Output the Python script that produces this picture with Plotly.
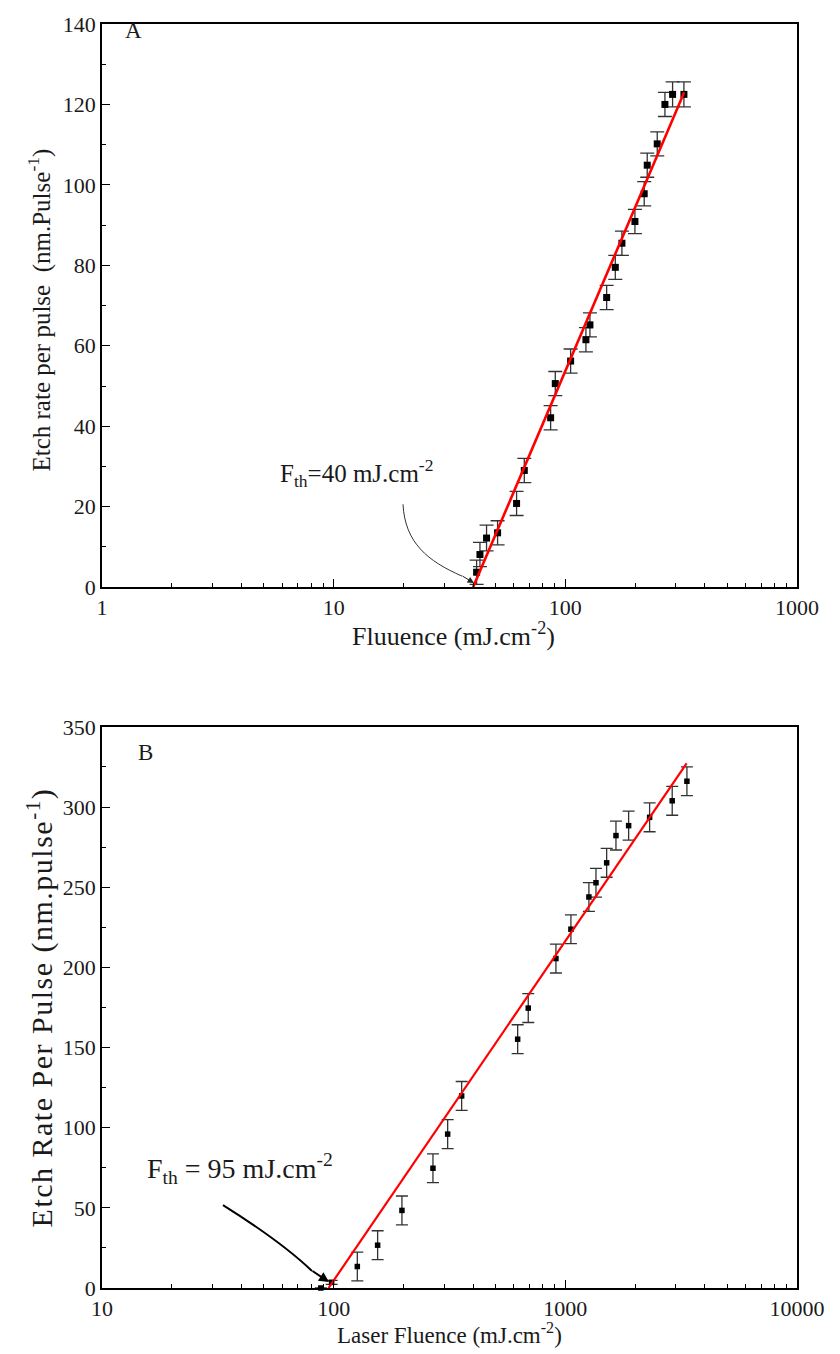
import numpy as np
import plotly.graph_objects as go

# ---- Panel A: etch rate vs fluence ----
fluence_a = [41.4, 42.8, 45.7, 51.0, 61.6, 66.5, 86.4, 90.5, 105.4, 122.7, 127.7,
             150.8, 164.3, 175.5, 199.7, 219.0, 225.7, 249.3, 269.1, 290.4, 325.0]
etch_a = [3.7, 8.1, 12.2, 13.5, 20.8, 29.0, 42.1, 50.6, 56.2, 61.5, 65.2,
          72.0, 79.5, 85.5, 90.9, 97.8, 104.9, 110.2, 120.0, 122.5, 122.5]
err_a = [3.0, 3.0, 3.2, 3.0, 3.0, 3.0, 3.0, 3.0, 3.0, 3.0, 3.0,
         3.0, 3.0, 3.0, 3.0, 3.0, 3.0, 3.0, 3.0, 3.1, 3.1]
fth_a = 40.0          # threshold fluence (mJ/cm^2)
slope_a = 135.0       # nm per decade of fluence
fit_span_a = [40.0, 326.0]

# ---- Panel B: etch rate vs laser fluence ----
fluence_b = [88, 98, 126.5, 154.8, 197.1, 268.3, 310.5, 356.8, 622.6, 691.7, 910.8,
             1057, 1264, 1356, 1508, 1654, 1876, 2311, 2893, 3348]
etch_b = [0.0, 3.5, 13.4, 26.7, 48.4, 74.7, 96.0, 119.8, 155.2, 174.6, 205.5,
          223.8, 243.9, 252.8, 265.2, 282.2, 288.4, 293.6, 303.9, 316.1]
err_b = [0.0, 1.2, 9, 9, 9, 9, 9, 9, 9, 9, 9, 9, 9, 9, 9, 9, 9, 9, 9, 9]
fth_b = 95.0
slope_b = 211.7
fit_span_b = [95.0, 3338.0]

ticks_a_x = [1, 10, 100, 1000]
ticks_b_x = [10, 100, 1000, 10000]
ticks_a_y = [0, 20, 40, 60, 80, 100, 120, 140]
ticks_b_y = [0, 50, 100, 150, 200, 250, 300, 350]

FONT = "Times New Roman, Liberation Serif, serif"
INK = "#1a1a1a"
W, H = 840, 1354
ML, MR, MT, MB = 102, 43, 22, 66


def fit_line(span, fth, slope):
    f = np.logspace(np.log10(span[0]), np.log10(span[1]), 60)
    return f, slope * np.log10(f / fth)


def paper(px, py):
    return (px - ML) / (W - ML - MR), (H - MB - py) / (H - MT - MB)


fig = go.Figure()

fa, ea = fit_line(fit_span_a, fth_a, slope_a)
fb, eb = fit_line(fit_span_b, fth_b, slope_b)

fig.add_trace(go.Scatter(x=fluence_a, y=etch_a, mode="markers",
                         marker=dict(symbol="square", size=7, color="black"),
                         error_y=dict(type="data", array=err_a, color="#333333",
                                      thickness=1.3, width=7),
                         cliponaxis=False, xaxis="x", yaxis="y", showlegend=False))
fig.add_trace(go.Scatter(x=fa, y=ea, mode="lines", line=dict(color="#ff0000", width=2.6),
                         xaxis="x", yaxis="y", showlegend=False))

fig.add_trace(go.Scatter(x=fluence_b, y=etch_b, mode="markers",
                         marker=dict(symbol="square", size=5.5, color="black"),
                         error_y=dict(type="data", array=err_b, color="#333333",
                                      thickness=1.3, width=6),
                         cliponaxis=False, xaxis="x2", yaxis="y2", showlegend=False))
fig.add_trace(go.Scatter(x=fb, y=eb, mode="lines", line=dict(color="#ff0000", width=2.2),
                         xaxis="x2", yaxis="y2", showlegend=False))

tickfont = dict(family=FONT, size=22, color=INK)
common = dict(showline=True, linecolor="black", linewidth=1.6, mirror=True,
              ticks="inside", ticklen=8, tickwidth=1.4, tickcolor="black",
              showgrid=False, zeroline=False, tickfont=tickfont)
minor_log = dict(ticks="inside", ticklen=4, tickwidth=1.2, tickcolor="black", dtick="D1")

split_a = 1 - (586 - MT) / (H - MT - MB)
split_b = (H - MB - 726) / (H - MT - MB)

fig.update_layout(
    width=W, height=H, margin=dict(l=ML, r=MR, t=MT, b=MB),
    paper_bgcolor="white", plot_bgcolor="white",
    font=dict(family=FONT, color=INK),
    xaxis=dict(type="log", range=[0, 3], domain=[0, 1], anchor="y",
               tickvals=ticks_a_x, ticktext=[str(v) for v in ticks_a_x],
               minor=minor_log, **common),
    yaxis=dict(range=[0, 140], domain=[split_a, 1], anchor="x",
               tickvals=ticks_a_y, ticktext=[str(v) for v in ticks_a_y],
               minor=dict(ticks="inside", ticklen=4, tickwidth=1.2, tickcolor="black", dtick=10),
               **common),
    xaxis2=dict(type="log", range=[1, 4], domain=[0, 1], anchor="y2",
                tickvals=ticks_b_x, ticktext=[str(v) for v in ticks_b_x],
                minor=minor_log, **common),
    yaxis2=dict(range=[0, 350], domain=[0, split_b], anchor="x2",
                tickvals=ticks_b_y, ticktext=[str(v) for v in ticks_b_y],
                minor=dict(ticks="inside", ticklen=4, tickwidth=1.2, tickcolor="black", dtick=25),
                **common),
)


def label(text, px, py, size, angle=0):
    x, y = paper(px, py)
    fig.add_annotation(text=text, xref="paper", yref="paper", x=x, y=y,
                       xanchor="center", yanchor="middle", textangle=angle,
                       showarrow=False, font=dict(family=FONT, size=size, color=INK))


# axis titles
label("Fluuence (mJ.cm<sup>-2</sup>)", 453, 633, 26)
label("Etch rate per pulse  (nm.Pulse<sup>-1</sup>)", 40, 309, 25, -90)
label("Laser Fluence (mJ.cm<sup>-2</sup>)", 450, 1334, 23)
label('<span style="letter-spacing:1.5px">Etch Rate Per Pulse (nm.pulse<sup>-1</sup>)</span>',
      40, 1007, 30, -90)

# panel letters
label("A", 133, 29, 23)
label("B", 145, 752, 23)

# threshold labels
label("F<sub>th</sub>=40 mJ.cm<sup>-2</sup>", 356, 472, 25)
label("F<sub>th</sub> = 95 mJ.cm<sup>-2</sup>", 240, 1168, 28)


def curve(pts):
    (x0, y0), (c1x, c1y), (c2x, c2y), (x1, y1) = [paper(*p) for p in pts]
    return f"M {x0},{y0} C {c1x},{c1y} {c2x},{c2y} {x1},{y1}"


# curved pointer to threshold, panel A
fig.add_shape(type="path", xref="paper", yref="paper",
              path=curve([(403, 503), (405, 542), (428, 560), (462, 575)]),
              line=dict(color="#333333", width=1))
tx, ty = paper(474, 582)
fig.add_annotation(xref="paper", yref="paper", x=tx, y=ty, ax=-13, ay=-8, text="",
                   showarrow=True, arrowhead=2, arrowsize=1.3, arrowwidth=1, arrowcolor="#222222")

# curved pointer to threshold, panel B
fig.add_shape(type="path", xref="paper", yref="paper",
              path=curve([(223, 1205), (250, 1222), (285, 1245), (312, 1271)]),
              line=dict(color="black", width=2))
tx, ty = paper(329, 1282)
fig.add_annotation(xref="paper", yref="paper", x=tx, y=ty, ax=-18, ay=-12, text="",
                   showarrow=True, arrowhead=2, arrowsize=1, arrowwidth=2, arrowcolor="black")

fig.write_html("out.html")
